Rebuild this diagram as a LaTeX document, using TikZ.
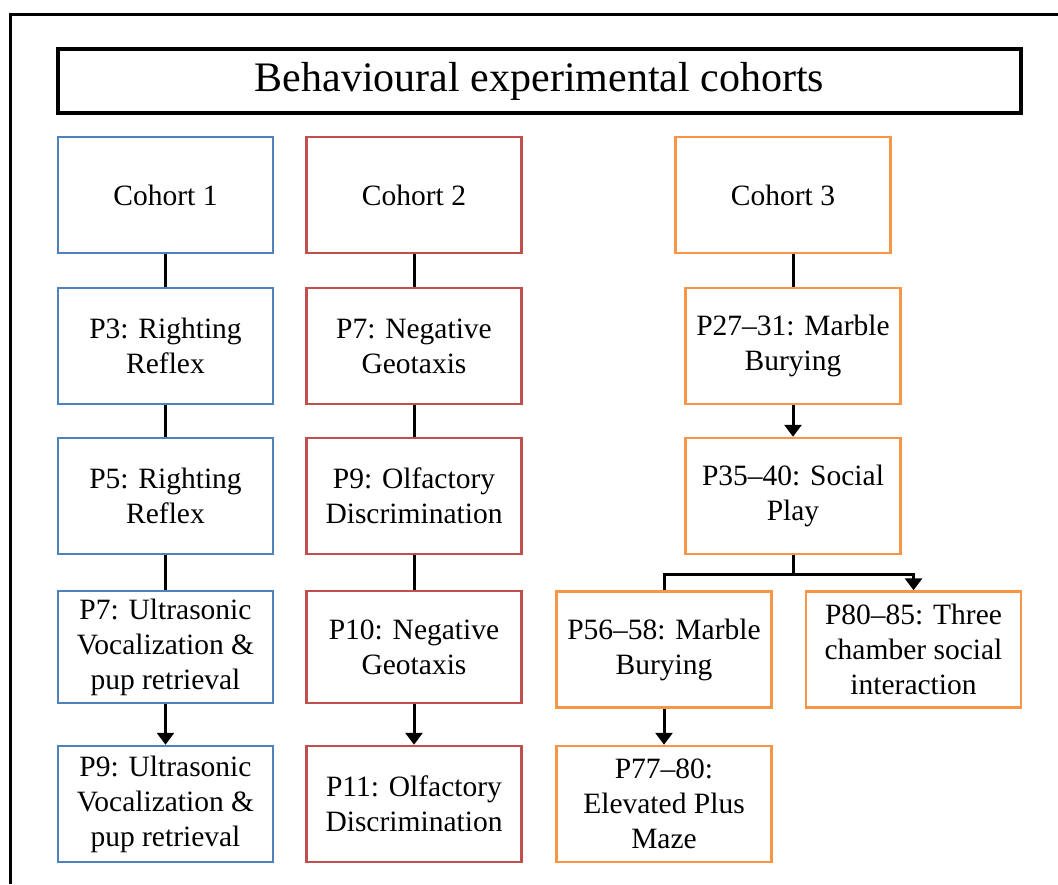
\documentclass[tikz,border=0pt]{standalone}
\usepackage{fontspec}
\setmainfont{Liberation Serif}
\usetikzlibrary{arrows.meta}
\definecolor{cblue}{HTML}{4F81BD}
\definecolor{cred}{HTML}{C0504D}
\definecolor{corange}{HTML}{F79646}
\begin{document}
\begin{tikzpicture}[x=1pt,y=-1pt,
  box/.style={draw, line width=2.5pt, rectangle, minimum width=215pt, minimum height=116pt, align=center, inner sep=2pt, font=\fontsize{29.5}{35}\selectfont},
  bbox/.style={box, draw=cblue},
  rbox/.style={box, draw=cred},
  obox/.style={box, draw=corange},
  link/.style={line width=3pt, black},
  arr/.style={link, -{Triangle[width=17pt,length=12pt]}}]
\useasboundingbox (0,0) rectangle (1058,884);
\draw[line width=3pt] (10,884) -- (10,14) -- (1060,14);
\node[draw, line width=3.5pt, minimum width=963pt, minimum height=64pt, inner sep=0pt, font=\fontsize{42}{48}\selectfont] (title) at (539.5,81) {Behavioural experimental cohorts};
% Cohort 1
\node[bbox] (c1) at (165.5,195) {Cohort 1};
\node[bbox] (b1) at (165.5,346) {P3: Righting\\Reflex};
\node[bbox] (b2) at (165.5,496) {P5: Righting\\Reflex};
\node[bbox, minimum height=112pt] (b3) at (165.5,647) {P7: Ultrasonic\\Vocalization \&\\pup retrieval};
\node[bbox] (b4) at (165.5,804) {P9: Ultrasonic\\Vocalization \&\\pup retrieval};
% Cohort 2
\node[rbox] (c2) at (414,195) {Cohort 2};
\node[rbox] (r1) at (414,346) {P7: Negative\\Geotaxis};
\node[rbox] (r2) at (414,496) {P9: Olfactory\\Discrimination};
\node[rbox, minimum height=112pt] (r3) at (414,647) {P10: Negative\\Geotaxis};
\node[rbox] (r4) at (414,804) {P11: Olfactory\\Discrimination};
% Cohort 3
\node[obox] (c3) at (783,195) {Cohort 3};
\node[obox] (o1) at (793,346) {P27\textendash31: Marble\\Burying};
\node[obox] (o2) at (793,496) {P35\textendash40: Social\\Play};
\node[obox] (o3) at (664,649.5) {P56\textendash58: Marble\\Burying};
\node[obox] (o4) at (913.5,649.5) {P80\textendash85: Three\\chamber social\\interaction};
\node[obox] (o5) at (664,804) {P77\textendash80:\\Elevated Plus\\Maze};
% connectors
\draw[link] (c1.south) -- (b1.north);
\draw[link] (b1.south) -- (b2.north);
\draw[link] (b2.south) -- (b3.north);
\draw[arr] (b3.south) -- (b4.north);
\draw[link] (c2.south) -- (r1.north);
\draw[link] (r1.south) -- (r2.north);
\draw[link] (r2.south) -- (r3.north);
\draw[arr] (r3.south) -- (r4.north);
\draw[link] (c3.south -| o1.north) -- (o1.north);
\draw[arr] (o1.south) -- (o2.north);
\draw[link] (o2.south) -- ++(0,19) coordinate (br) -| (o3.north);
\draw[arr] (br) -| (o4.north);
\draw[arr] (o3.south) -- (o5.north);
\end{tikzpicture}
\end{document}
